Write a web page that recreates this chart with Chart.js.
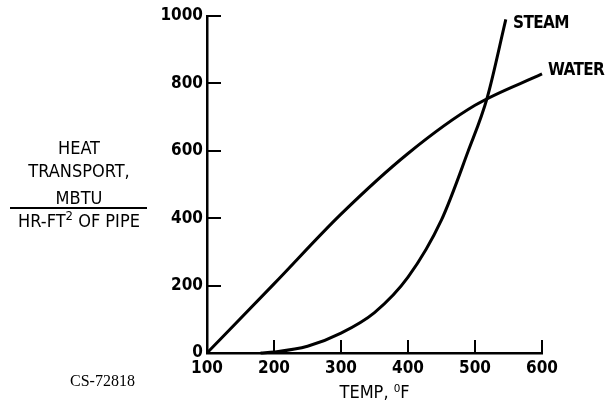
<!DOCTYPE html>
<html>
<head>
<meta charset="utf-8">
<script src="https://cdn.jsdelivr.net/npm/chart.js@4/dist/chart.umd.min.js"></script>
<style>
  html, body { margin: 0; padding: 0; background: #fff; }
  #wrap { position: relative; width: 607px; height: 409px; }
  .lbl { position: absolute; color: #000; font-family: "DejaVu Sans Condensed", "DejaVu Sans", sans-serif; font-stretch: condensed; white-space: nowrap; line-height: 1; }
  .ylab { left: 6px; width: 146px; text-align: center; font-size: 18px; }
  .curve { font-weight: bold; font-size: 17px; letter-spacing: -0.6px; }
  .code { font-family: "Liberation Serif", serif; font-size: 16px; font-weight: normal; }
</style>
</head>
<body>
<div id="wrap">
  <canvas id="c" width="607" height="409"></canvas>
  <div class="lbl ylab" style="top:139px;">HEAT</div>
  <div class="lbl ylab" style="top:162px;">TRANSPORT,</div>
  <div class="lbl ylab" style="top:189px;">MBTU</div>
  <div style="position:absolute;left:10px;top:207px;width:137px;height:0;border-top:2px solid #000;"></div>
  <div class="lbl ylab" style="top:212px;">HR-FT<sup style="font-size:13px;vertical-align:7px;line-height:0;">2</sup> OF PIPE</div>
  <div class="lbl curve" style="left:513px;top:14px;">STEAM</div>
  <div class="lbl curve" style="left:548px;top:61px;">WATER</div>
  <div class="lbl code" style="left:70px;top:373px;">CS-72818</div>
</div>
<script>
const waterTemp  = [100, 200, 300, 400, 500, 600];
const waterHeat  = [0, 205, 412, 592, 735, 828];
const steamTemp  = [180, 200, 250, 300, 350, 400, 450, 490, 518, 546];
const steamHeat  = [0, 3, 20, 59, 120, 225, 395, 600, 756, 990];
const xTicks = [100, 200, 300, 400, 500, 600];
const yTicks = [0, 200, 400, 600, 800, 1000];

const toPts = (xs, ys) => xs.map((x, i) => ({ x: x, y: ys[i] }));

const tickMarks = {
  id: 'tickMarks',
  afterDraw(chart) {
    const ctx = chart.ctx;
    const xs = chart.scales.x, ys = chart.scales.y;
    const area = chart.chartArea;
    ctx.save();
    ctx.strokeStyle = '#000';
    ctx.lineWidth = 2;
    xTicks.forEach(v => {
      const px = Math.round(xs.getPixelForValue(v));
      ctx.beginPath();
      ctx.moveTo(px, area.bottom);
      ctx.lineTo(px, area.bottom - 13);
      ctx.stroke();
    });
    yTicks.forEach(v => {
      const py = Math.round(ys.getPixelForValue(v));
      ctx.beginPath();
      ctx.moveTo(area.left, py);
      ctx.lineTo(area.left + 14, py);
      ctx.stroke();
    });
    ctx.restore();
  }
};

const FAM = '"DejaVu Sans Condensed", "DejaVu Sans", sans-serif';
const tickFont = { family: FAM, size: 17, weight: 'bold' };

new Chart(document.getElementById('c'), {
  type: 'line',
  data: {
    datasets: [
      { label: 'WATER', data: toPts(waterTemp, waterHeat), borderColor: '#000', borderWidth: 3, pointRadius: 0, cubicInterpolationMode: 'monotone', fill: false },
      { label: 'STEAM', data: toPts(steamTemp, steamHeat), borderColor: '#000', borderWidth: 3, pointRadius: 0, cubicInterpolationMode: 'monotone', fill: false }
    ]
  },
  options: {
    responsive: false,
    animation: false,
    clip: false,
    layout: { padding: { left: 147, right: 65, top: 16, bottom: 5 } },
    plugins: { legend: { display: false }, tooltip: { enabled: false } },
    scales: {
      x: {
        type: 'linear', min: 100, max: 600,
        afterFit: s => { s.height = 51; },
        afterBuildTicks: s => { s.ticks = xTicks.map(v => ({ value: v })); },
        grid: { display: true, drawOnChartArea: false, drawTicks: false },
        border: { display: true, color: '#000', width: 2.5 },
        ticks: { color: '#000', font: tickFont, padding: 5, maxRotation: 0, callback: v => String(v) },
        title: { display: true, text: 'TEMP, ⁰F', color: '#000', font: { family: FAM, size: 18 }, padding: { top: 2, bottom: 0 } }
      },
      y: {
        type: 'linear', min: 0, max: 1000,
        afterFit: s => { s.width = 60; },
        afterBuildTicks: s => { s.ticks = yTicks.map(v => ({ value: v })); },
        grid: { display: true, drawOnChartArea: false, drawTicks: false },
        border: { display: true, color: '#000', width: 2.5 },
        ticks: { color: '#000', font: tickFont, padding: 4, callback: v => String(v) }
      }
    }
  },
  plugins: [tickMarks]
});
</script>
</body>
</html>
